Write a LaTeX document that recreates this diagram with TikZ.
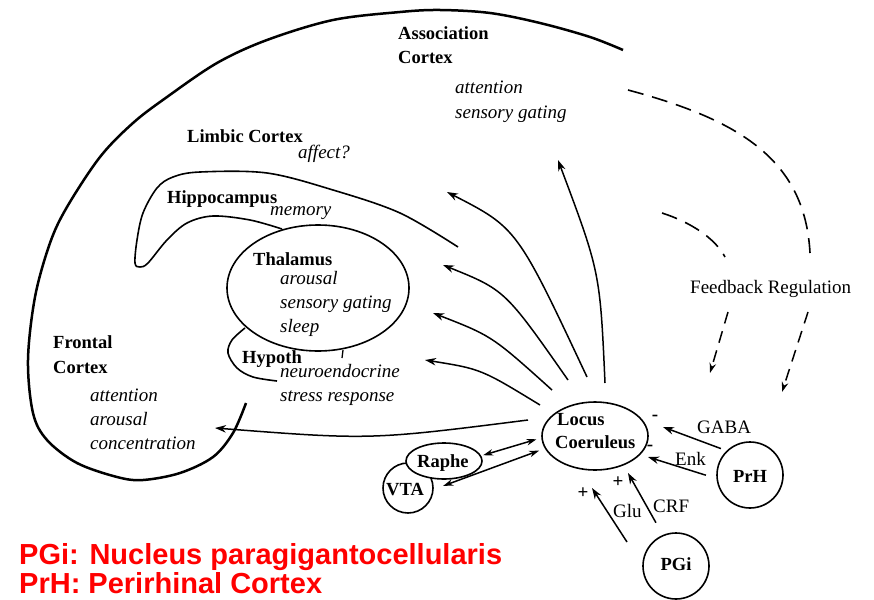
\documentclass[tikz,border=0pt]{standalone}
\usepackage{fontspec}
\setmainfont{Liberation Serif}
\newfontfamily\redfont{Liberation Sans}
\usetikzlibrary{arrows.meta,shapes.geometric}
\begin{document}
\begin{tikzpicture}[x=1pt,y=-1pt,
  lbl/.style={anchor=base west,inner sep=0pt,font=\fontsize{19}{22}\selectfont},
  bfx/.style={anchor=base west,inner sep=0pt,font=\fontsize{18.5}{22}\selectfont\bfseries},
  itx/.style={anchor=base west,inner sep=0pt,font=\fontsize{19}{22}\selectfont\itshape},
  ctr/.style={anchor=center,inner sep=0pt,font=\fontsize{18.5}{22}\selectfont\bfseries},
  sgn/.style={anchor=center,inner sep=0pt,font=\fontsize{19}{22}\selectfont\bfseries},
  shapeline/.style={line width=1.6pt},
  fan/.style={line width=1.5pt,-{Stealth[length=11pt,width=7.5pt]}},
  dbl/.style={line width=1.5pt,{Stealth[length=10pt,width=6.5pt]}-{Stealth[length=10pt,width=6.5pt]}},
  dsh/.style={line width=1.6pt,dash pattern=on 16pt off 9pt},
  dsharrow/.style={line width=1.5pt,dash pattern=on 12pt off 8pt,-{Stealth[length=10pt,width=6.5pt]}},
  redtxt/.style={anchor=base west,inner sep=0pt,text=red,font=\redfont\fontsize{29}{32}\selectfont\bfseries}
]
\useasboundingbox (0,0) rectangle (874,599);

% outer cortex
\draw[line width=2.5pt] plot[smooth,tension=0.55] coordinates {(623,50) (590,37) (540,23) (490,13) (440,10) (400,12) (333,20) (267,40) (217,63) (167,97) (133,123) (100,157) (67,207) (50,243) (35,297) (28,360) (33,413) (47,440) (77,463) (117,477) (143,480) (180,473) (213,457) (233,433) (246,403)};

% thalamus
\node[draw,shapeline,ellipse,minimum width=182pt,minimum height=126pt,inner sep=0pt] (thal) at (318,288) {};
% hippocampus
\draw[shapeline] plot[smooth,tension=0.55] coordinates {(458,247) (400,213) (333,190) (267,173) (200,172) (173,177) (157,188) (143,213) (137,240) (135,263) (140,267) (148,263) (167,240) (187,223) (213,216) (250,220) (282,229)};
% hypothalamus
\draw[shapeline] plot[smooth,tension=0.55] coordinates {(245,328) (232,340) (228,353) (237,368) (253,377) (277,381)};
\draw[line width=1.3pt] (343,350) -- (342,358);

% nuclei
\node[draw,shapeline,ellipse,minimum width=106pt,minimum height=68pt,inner sep=0pt] (lc) at (595,436) {};
\node[draw,shapeline,circle,minimum size=50pt,inner sep=0pt] (vta) at (408,488) {};
\node[draw,shapeline,ellipse,fill=white,minimum width=76pt,minimum height=36pt,inner sep=0pt] (raphe) at (444,461) {};
\node[draw,shapeline,circle,minimum size=66pt,inner sep=0pt] (prh) at (750,475) {};
\node[draw,shapeline,circle,minimum size=66pt,inner sep=0pt] (pgi) at (676,566) {};

% texts
\node[bfx] (assoc1) at (398,40) {Association};
\node[bfx] (assoc2) at (398,64) {Cortex};
\node[itx] (assoc3) at (455,94) {attention};
\node[itx] (assoc4) at (455,118) {sensory gating};
\node[bfx] (limb1) at (187,142) {Limbic Cortex};
\node[itx] (limb2) at (298,158) {affect?};
\node[bfx] (hip1) at (167,203) {Hippocampus};
\node[itx] (hip2) at (270,215) {memory};
\node[bfx] (thal1) at (253,265) {Thalamus};
\node[itx] (thal2) at (280,284) {arousal};
\node[itx] (thal3) at (280,308) {sensory gating};
\node[itx] (thal4) at (280,332) {sleep};
\node[bfx] (hyp1) at (242,363) {Hypoth};
\node[itx] (hyp2) at (280,377) {neuroendocrine};
\node[itx] (hyp3) at (280,401) {stress response};
\node[bfx] (fr1) at (53,348) {Frontal};
\node[bfx] (fr2) at (53,373) {Cortex};
\node[itx] (fr3) at (90,401) {attention};
\node[itx] (fr4) at (90,425) {arousal};
\node[itx] (fr5) at (90,449) {concentration};
\node[bfx] (lct1) at (557,425) {Locus};
\node[bfx] (lct2) at (555,448) {Coeruleus};
\node[bfx] (rapht) at (417,467) {Raphe};
\node[bfx] (vtat) at (386,495) {VTA};
\node[ctr] (prht) at (750,476) {PrH};
\node[ctr] (pgit) at (676,564) {PGi};
\node[lbl] (fb) at (690,293) {Feedback Regulation};
\node[lbl] (gaba) at (697,433) {GABA};
\node[lbl] (enk) at (675,465) {Enk};
\node[lbl] (glu) at (613,517) {Glu};
\node[lbl] (crf) at (653,512) {CRF};
\node[sgn] (m1) at (655,418) {-};
\node[sgn] (m2) at (650,448) {-};
\node[sgn] (p1) at (583,493) {+};
\node[sgn] (p2) at (618,482) {+};

% fan of projections from LC
\coordinate (sa) at (528,420); \coordinate (ta) at (215,428);
\coordinate (sb) at (540,405); \coordinate (tb) at (425,360);
\coordinate (sc) at (552,390); \coordinate (tc) at (433,313);
\coordinate (sd) at (568,380); \coordinate (td) at (443,265);
\coordinate (se) at (587,377); \coordinate (te) at (447,192);
\coordinate (sf) at (605,383); \coordinate (tf) at (558,160);
\draw[fan] (sa) .. controls (370,440) .. (ta);
\draw[fan] (sb) .. controls (481,369) .. (tb);
\draw[fan] (sc) .. controls (492,336) .. (tc);
\draw[fan] (sd) .. controls (505,290) .. (td);
\draw[fan] (se) .. controls (517,228) .. (te);
\draw[fan] (sf) .. controls (600,272) .. (tf);

% reciprocal connections
\draw[dbl,shorten <=2pt,shorten >=5pt] (raphe.8) -- (lc.182);
\draw[dbl,shorten <=10pt,shorten >=6pt] (vta.-3) -- (lc.194);

% afferents
\coordinate (tgaba) at (663,427);
\coordinate (tenk) at (648,457);
\coordinate (sglu) at (627,542); \coordinate (tglu) at (592,488);
\coordinate (tcrf) at (628,473);
\draw[fan,shorten <=6pt] (prh.134) -- (tgaba);
\draw[fan,shorten <=11pt] (prh.186) -- (tenk);
\draw[fan] (sglu) -- (tglu);
\draw[fan,shorten <=14pt] (pgi.113) -- (tcrf);

% feedback
\coordinate (d1s) at (628,90); \coordinate (d1e) at (810,253);
\coordinate (d2s) at (662,213); \coordinate (d2e) at (725,257);
\draw[dsh] (d1s) .. controls (740,120) and (805,160) .. (d1e);
\draw[dsh] (d2s) .. controls (690,222) and (715,238) .. (d2e);
\coordinate (f1s) at (728,312); \coordinate (f1e) at (710,373);
\coordinate (f2s) at (808,312); \coordinate (f2e) at (782,392);
\draw[dsharrow] (f1s) -- (f1e);
\draw[dsharrow] (f2s) -- (f2e);

% legend
\node[redtxt] (leg1) at (19,564) {PGi: Nucleus paragigantocellularis};
\node[redtxt] (leg2) at (19,593) {PrH: Perirhinal Cortex};
\end{tikzpicture}
\end{document}
